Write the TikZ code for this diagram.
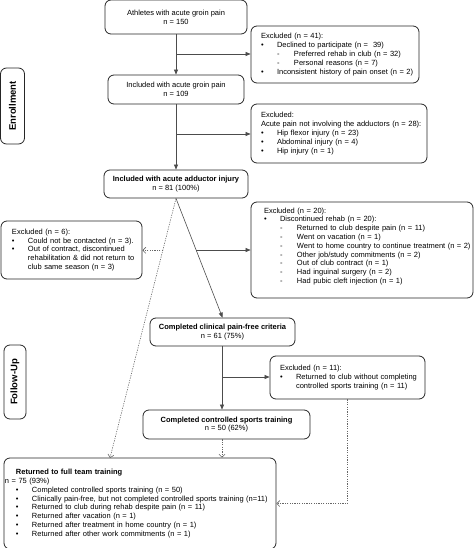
\documentclass[tikz,border=0pt]{standalone}
\usepackage{fontspec}
\setmainfont{Liberation Sans}
\usetikzlibrary{arrows.meta,calc}

\newcommand{\txtline}[1]{\mbox{#1}}
\newcommand{\bitem}[1]{\mbox{\makebox[16pt][l]{\textbullet}#1}}
\newcommand{\citem}[1]{\mbox{\hspace*{16pt}#1}}
\newcommand{\ditem}[1]{\mbox{\hspace*{16pt}\makebox[17pt][l]{-}#1}}

\begin{document}
\begin{tikzpicture}[x=1pt,y=-1pt,font=\fontsize{7.5}{8.8}\selectfont,
	box/.style={draw=black!85,line width=0.8pt,rounded corners=6pt,inner sep=0pt,align=center},
	listbox/.style={box,align=left,inner xsep=10pt},
	phase/.style={box,rotate=90,font=\bfseries\fontsize{9.5}{10}\selectfont},
	solidarrow/.style={draw=black!70,line width=0.6pt,-{Triangle[length=5pt,width=4pt]}},
	dasharrow/.style={draw=black!60,line width=0.6pt,dash pattern=on 1.2pt off 1.2pt,-{Straight Barb[length=3pt,width=6pt]}}]

	\useasboundingbox (0,0) rectangle (474,548);

	% enrollment
	\node[box,minimum width=142pt,minimum height=34pt] (athletes) at (176,17) {Athletes with acute groin pain\\n = 150};
	\node[listbox,text width=148pt,minimum height=57pt] (excl41) at (335,54.5) {\txtline{Excluded (n = 41):}\\
		\bitem{Declined to participate (n =~ 39)}\\
		\ditem{Preferred rehab in club (n = 32)}\\
		\ditem{Personal reasons (n = 7)}\\
		\bitem{Inconsistent history of pain onset (n = 2)}};
	\node[box,minimum width=136pt,minimum height=29pt] (incl) at (176,89.5) {Included with acute groin pain\\n = 109};
	\node[listbox,text width=156pt,minimum height=59pt] (excl28) at (339,133.5) {\txtline{Excluded:}\\
		\txtline{Acute pain not involving the adductors (n = 28):}\\
		\bitem{Hip flexor injury (n = 23)}\\
		\bitem{Abdominal injury (n = 4)}\\
		\bitem{Hip injury (n = 1)}};
	\node[phase,minimum width=76pt,minimum height=24pt] (enroll) at (12.5,106) {Enrollment};
	\node[box,minimum width=144pt,minimum height=28pt] (adductor) at (176,184) {\textbf{Included with acute adductor injury}\\n = 81 (100\%)};

	% follow-up
	\node[listbox,inner xsep=11pt,text width=119pt,minimum height=58pt] (excl6) at (71.5,250) {\txtline{Excluded (n = 6):}\\
		\bitem{Could not be contacted (n = 3).}\\
		\bitem{Out of contract, discontinued}\\
		\citem{rehabilitation \& did not return to}\\
		\citem{club same season (n = 3)}};
	\node[listbox,inner xsep=13pt,text width=196pt,minimum height=96pt] (excl20) at (362,250) {\txtline{Excluded (n = 20):}\\
		\bitem{Discontinued rehab (n = 20):}\\
		\ditem{Returned to club despite pain (n = 11)}\\
		\ditem{Went on vacation (n = 1)}\\
		\ditem{Went to home country to continue treatment (n = 2)}\\
		\ditem{Other job/study commitments (n = 2)}\\
		\ditem{Out of club contract (n = 1)}\\
		\ditem{Had inguinal surgery (n = 2)}\\
		\ditem{Had pubic cleft injection (n = 1)}\\[0pt]\mbox{}};
	\node[box,minimum width=145pt,minimum height=28pt] (clinical) at (222.5,332) {\textbf{Completed clinical pain-free criteria}\\n = 61 (75\%)};
	\node[phase,minimum width=74pt,minimum height=22pt] (followup) at (15,382) {Follow-Up};
	\node[listbox,text width=135pt,minimum height=43pt] (excl11) at (347.5,377.5) {\txtline{Excluded (n = 11):}\\
		\bitem{Returned to club without completing}\\
		\citem{controlled sports training (n = 11)}};
	\node[box,minimum width=167pt,minimum height=29pt] (sports) at (226.5,424.5) {\textbf{Completed controlled sports training}\\n = 50 (62\%)};
	\node[listbox,inner xsep=12pt,text width=248pt,minimum height=91pt] (returned) at (140,503.5) {\txtline{\textbf{Returned to full team training}}\\
		\txtline{\hspace*{-11pt}n = 75 (93\%)}\\
		\bitem{Completed controlled sports training (n = 50)}\\
		\bitem{Clinically pain-free, but not completed controlled sports training (n=11)}\\
		\bitem{Returned to club during rehab despite pain (n = 11)}\\
		\bitem{Returned after vacation (n = 1)}\\
		\bitem{Returned after treatment in home country (n = 1)}\\
		\bitem{Returned after other work commitments (n = 1)}};

	% connectors
	\coordinate (b1) at (176,54);
	\coordinate (b2) at (176,134);
	\coordinate (b3) at ($(adductor.south)!0.433!(clinical.north)$);
	\coordinate (r1) at (110,458);
	\coordinate (b4) at ($(adductor.south)!0.2!(r1)$);
	\coordinate (b5) at (222,377);

	\draw[solidarrow] (athletes.south) -- (incl.north);
	\draw[solidarrow] (b1) -- (b1 -| excl41.west);
	\draw[solidarrow] (incl.south) -- (adductor.north);
	\draw[solidarrow] (b2) -- (b2 -| excl28.west);
	\draw[solidarrow] (adductor.south) -- (clinical.north);
	\draw[solidarrow] (b3) -- (b3 -| excl20.west);
	\draw[dasharrow] (adductor.south) -- (r1);
	\draw[dasharrow] (b4) -- (b4 -| excl6.east);
	\draw[solidarrow] (b5 |- clinical.south) -- (b5 |- sports.north);
	\draw[solidarrow] (b5) -- (b5 -| excl11.west);
	\draw[dasharrow] (b5 |- sports.south) -- (b5 |- returned.north);
	\draw[dasharrow] (excl11.south) |- (returned.east);

\end{tikzpicture}
\end{document}
